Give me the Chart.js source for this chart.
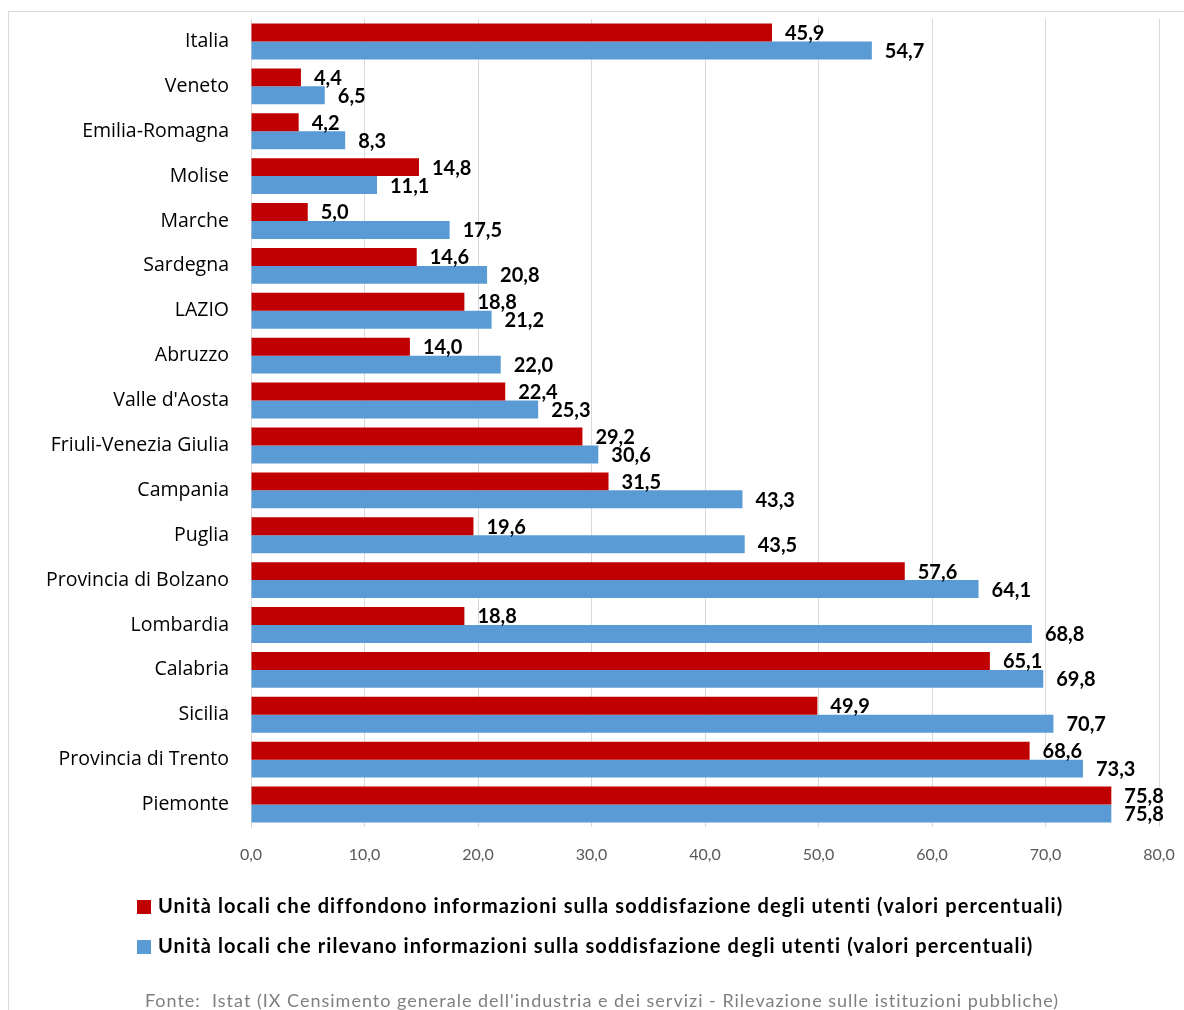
<!DOCTYPE html>
<html>
<head>
<meta charset="utf-8">
<title>Soddisfazione degli utenti</title>
<script src="https://cdn.jsdelivr.net/npm/chart.js@4.4.1/dist/chart.umd.min.js"></script>
<style>
    html, body { margin: 0; padding: 0; background: #fff; }
    #wrap { position: relative; width: 1184px; height: 1010px; }
</style>
</head>
<body>
<div id="wrap"><canvas id="satisfactionChart"></canvas></div>
<script>
const regions = [
    'Italia', 'Veneto', 'Emilia-Romagna', 'Molise', 'Marche', 'Sardegna', 'LAZIO',
    'Abruzzo', "Valle d'Aosta", 'Friuli-Venezia Giulia', 'Campania', 'Puglia',
    'Provincia di Bolzano', 'Lombardia', 'Calabria', 'Sicilia', 'Provincia di Trento', 'Piemonte'
];
const diffondono = [45.9, 4.4, 4.2, 14.8, 5.0, 14.6, 18.8, 14.0, 22.4, 29.2, 31.5, 19.6, 57.6, 18.8, 65.1, 49.9, 68.6, 75.8];
const rilevano   = [54.7, 6.5, 8.3, 11.1, 17.5, 20.8, 21.2, 22.0, 25.3, 30.6, 43.3, 43.5, 64.1, 68.8, 69.8, 70.7, 73.3, 75.8];
const xTicks = [0, 10, 20, 30, 40, 50, 60, 70, 80];
const seriesNames = [
    'Unità locali che diffondono informazioni sulla soddisfazione degli utenti (valori percentuali)',
    'Unità locali che rilevano informazioni sulla soddisfazione degli utenti (valori percentuali)'
];
const sourceNote = "Fonte:  Istat (IX Censimento generale dell'industria e dei servizi - Rilevazione sulle istituzioni pubbliche)";

const RED = '#C00000';
const BLUE = '#5B9BD5';
const FONT = 'Lato, Carlito, "Open Sans", sans-serif';

const fmt = v => v.toFixed(1).replace('.', ',');

// white background and the thin frame round the whole chart
const framePlugin = {
    id: 'frame',
    beforeDraw(chart) {
        const c = chart.ctx;
        c.save();
        c.fillStyle = '#fff';
        c.fillRect(0, 0, chart.width, chart.height);
        c.strokeStyle = '#d9d9d9';
        c.lineWidth = 1;
        c.strokeRect(8.5, 11.5, chart.width + 20, chart.height + 20);
        c.restore();
    }
};

// bold numbers at the end of each bar
const valueLabels = {
    id: 'valueLabels',
    afterDatasetsDraw(chart) {
        const c = chart.ctx;
        c.save();
        c.font = 'bold 20px ' + FONT;
        c.fillStyle = '#000';
        c.textAlign = 'left';
        c.textBaseline = 'middle';
        chart.data.datasets.forEach((ds, i) => {
            chart.getDatasetMeta(i).data.forEach((bar, j) => {
                c.fillText(fmt(ds.data[j]), bar.x + 13, bar.y + 1);
            });
        });
        c.restore();
    }
};

// legend stacked under the axis, plus the source line
const legendBlock = {
    id: 'legendBlock',
    afterDraw(chart) {
        const c = chart.ctx;
        c.save();
        c.textAlign = 'left';
        c.textBaseline = 'middle';
        c.letterSpacing = '1.1px';
        c.font = 'bold 20px ' + FONT;
        chart.data.datasets.forEach((ds, i) => {
            const y = 907 + i * 40;
            c.fillStyle = ds.backgroundColor;
            c.fillRect(137, y - 7, 14, 14);
            c.fillStyle = '#000';
            c.fillText(ds.label, 158, y);
        });
        c.letterSpacing = '1px';
        c.font = '18px ' + FONT;
        c.fillStyle = '#7f7f7f';
        c.textAlign = 'center';
        c.fillText(sourceNote, 602, 1001);
        c.restore();
    }
};

new Chart(document.getElementById('satisfactionChart').getContext('2d'), {
    type: 'bar',
    data: {
        labels: regions,
        datasets: [
            { label: seriesNames[0], data: diffondono, backgroundColor: RED },
            { label: seriesNames[1], data: rilevano, backgroundColor: BLUE }
        ]
    },
    options: {
        indexAxis: 'y',
        responsive: true,
        maintainAspectRatio: false,
        animation: false,
        devicePixelRatio: 1,
        categoryPercentage: 0.8,
        barPercentage: 1.0,
        layout: { padding: { top: 19, right: 25, left: 0, bottom: 0 } },
        plugins: {
            legend: { display: false },
            tooltip: { enabled: false }
        },
        scales: {
            x: {
                min: xTicks[0],
                max: xTicks[xTicks.length - 1],
                afterBuildTicks(scale) {
                    scale.ticks = xTicks.map(v => ({ value: v }));
                },
                afterFit(scale) {
                    scale.height = 183;
                    scale.paddingLeft = 0;
                    scale.paddingRight = 0;
                },
                grid: { color: '#d9d9d9', drawTicks: false },
                border: { display: false },
                ticks: {
                    padding: 18,
                    color: '#595959',
                    font: { family: FONT, size: 16 },
                    callback: v => fmt(v)
                }
            },
            y: {
                afterFit(scale) {
                    scale.width = 251;
                    scale.paddingTop = 0;
                    scale.paddingBottom = 0;
                },
                grid: { display: false, drawTicks: false },
                border: { display: true, color: '#d9d9d9' },
                ticks: {
                    padding: 22,
                    color: '#000',
                    font: { family: '"Open Sans", ' + FONT, size: 19.5 }
                }
            }
        }
    },
    plugins: [framePlugin, valueLabels, legendBlock]
});
</script>
</body>
</html>
